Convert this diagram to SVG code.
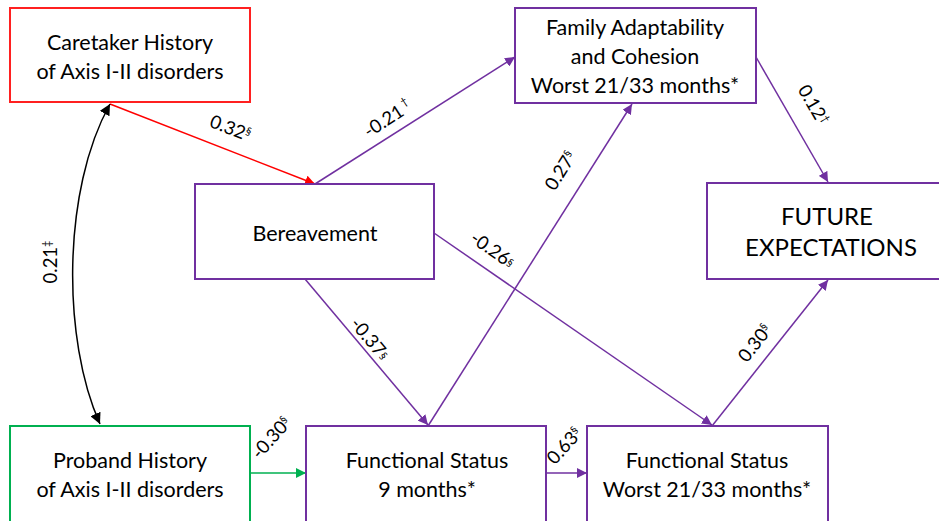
<svg xmlns="http://www.w3.org/2000/svg" width="939" height="521" viewBox="0 0 939 521">
<style>
.box{fill:#fff;stroke-width:2}
.p{stroke:#7030a0}
.t{font-family:Lato,"Liberation Sans",sans-serif;font-size:21.5px;fill:#000;text-anchor:middle}
.big{font-size:24px}
.lbl{font-family:Lato,"Liberation Sans",sans-serif;font-size:18.5px;fill:#000;text-anchor:middle}
.sup{font-size:11px}
.c{fill:none;stroke-width:1.5}
</style>
<defs>
<marker id="ap" viewBox="0 0 10 10" refX="10" refY="5" markerWidth="10" markerHeight="10" markerUnits="userSpaceOnUse" orient="auto"><path d="M0,0 L10,5 L0,10 z" fill="#7030a0"/></marker>
<marker id="ar" viewBox="0 0 10 10" refX="10" refY="5" markerWidth="10" markerHeight="10" markerUnits="userSpaceOnUse" orient="auto"><path d="M0,0 L10,5 L0,10 z" fill="#ff0000"/></marker>
<marker id="ag" viewBox="0 0 10 10" refX="10" refY="5" markerWidth="10" markerHeight="10" markerUnits="userSpaceOnUse" orient="auto"><path d="M0,0 L10,5 L0,10 z" fill="#00b050"/></marker>
<marker id="ak" viewBox="0 0 10 10" refX="10" refY="5" markerWidth="11" markerHeight="11" markerUnits="userSpaceOnUse" orient="auto-start-reverse"><path d="M0,0 L10,5 L0,10 z" fill="#000"/></marker>
</defs>
<g id="connectors">
<path class="c" d="M110,104 L315,184" stroke="#ff0000" marker-end="url(#ar)"/>
<path class="c" d="M110,104 C62,190 62,340 100,424" stroke="#000" marker-start="url(#ak)" marker-end="url(#ak)"/>
<path class="c" d="M315,184 L515,57" stroke="#7030a0" marker-end="url(#ap)"/>
<path class="c" d="M305,279 L428,425" stroke="#7030a0" marker-end="url(#ap)"/>
<path class="c" d="M434,233 L712,425" stroke="#7030a0" marker-end="url(#ap)"/>
<path class="c" d="M428,426 L632,104" stroke="#7030a0" marker-end="url(#ap)"/>
<path class="c" d="M756,57 L828,182" stroke="#7030a0" marker-end="url(#ap)"/>
<path class="c" d="M712,426 L828,280" stroke="#7030a0" marker-end="url(#ap)"/>
<path class="c" d="M546,473 L587,473" stroke="#7030a0" marker-end="url(#ap)"/>
<path class="c" d="M250,473 L306,473" stroke="#00b050" marker-end="url(#ag)"/>
</g>
<g id="caretaker"><rect class="box" x="10" y="8" width="240" height="94" stroke="#ff2020"/><text class="t" x="130" y="50">Caretaker History</text><text class="t" x="130" y="79">of Axis I-II disorders</text></g>
<g id="family"><rect class="box p" x="515" y="8" width="241" height="95"/><text class="t" x="635" y="35">Family Adaptability</text><text class="t" x="635" y="64">and Cohesion</text><text class="t" x="635" y="93">Worst 21/33 months*</text></g>
<g id="bereavement"><rect class="box p" x="195" y="184" width="239" height="95"/><text class="t" x="315" y="241">Bereavement</text></g>
<g id="future"><rect class="box p" x="707" y="183" width="240" height="96"/><text class="t big" x="827" y="225">FUTURE</text><text class="t big" x="831" y="256">EXPECTATIONS</text></g>
<g id="proband"><rect class="box" x="10" y="426" width="240" height="96" stroke="#00b050"/><text class="t" x="130" y="468">Proband History</text><text class="t" x="130" y="497">of Axis I-II disorders</text></g>
<g id="fs9"><rect class="box p" x="306" y="426" width="240" height="96"/><text class="t" x="427" y="468">Functional Status</text><text class="t" x="427" y="497">9 months*</text></g>
<g id="fsworst"><rect class="box p" x="587" y="426" width="241" height="96"/><text class="t" x="707" y="468">Functional Status</text><text class="t" x="707" y="497">Worst 21/33 months*</text></g>
<g id="labels">
<text class="lbl" transform="translate(228,134) rotate(21)">0.32<tspan class="sup" dy="-6">§</tspan></text>
<text class="lbl" transform="translate(391,124) rotate(-33)">-0.21<tspan class="sup" dy="-8"> †</tspan></text>
<text class="lbl" transform="translate(808,108) rotate(60)">0.12<tspan class="sup" dy="-6">†</tspan></text>
<text class="lbl" transform="translate(566,174) rotate(-58)">0.27<tspan class="sup" dy="-6">§</tspan></text>
<text class="lbl" transform="translate(489,255) rotate(35)">-0.26<tspan class="sup" dy="-2">§</tspan></text>
<text class="lbl" transform="translate(365,343) rotate(50)">-0.37<tspan class="sup" dy="-2">§</tspan></text>
<text class="lbl" transform="translate(760,347) rotate(-52)">0.30<tspan class="sup" dy="-6">§</tspan></text>
<text class="lbl" transform="translate(569,450) rotate(-48)">0.63<tspan class="sup" dy="-6">§</tspan></text>
<text class="lbl" transform="translate(276,442) rotate(-48)">-0.30<tspan class="sup" dy="-6">§</tspan></text>
<text class="lbl" transform="translate(57,262) rotate(-90)">0.21<tspan class="sup" dy="-6">‡</tspan></text>
</g>
</svg>
